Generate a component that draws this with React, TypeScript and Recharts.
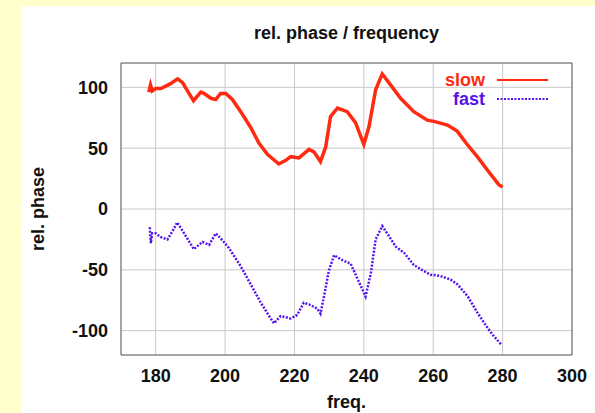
import React from 'react';
import { LineChart, Line, XAxis, YAxis, CartesianGrid, Legend, ReferenceArea } from 'recharts';

const slowFreq = [178, 178.5, 179, 180, 181.5, 184.3, 186.3, 187.7, 189.6, 190.9, 193, 193.9, 195.9, 197.3, 198.7, 200.2, 202.1, 204.5, 207.4, 209.8, 212.2, 215.5, 217.5, 218.9, 221.3, 224.2, 225.6, 227.5, 229, 230.4, 232.4, 235.2, 237.6, 240, 241.5, 243.4, 245.3, 247.7, 250.6, 254.4, 258.3, 260.2, 264.1, 266.9, 269.8, 272.7, 275.6, 278.9, 280];
const slowPhase = [96, 102, 97, 99, 99, 103, 107, 104, 95, 89, 96, 95, 91, 90, 95, 95, 90, 80, 67, 54, 45, 37, 40, 43, 42, 49, 47, 39, 51, 76, 83, 80, 71, 53, 68, 98, 111, 102, 91, 80, 73, 72, 69, 64, 53, 43, 32, 20, 18];

const fastFreq = [178.3, 178.6, 179, 180, 181.4, 183.4, 184.8, 186.2, 188.2, 191, 193.5, 195.4, 197.3, 198.7, 201.1, 204.5, 207.4, 210.3, 212.7, 214.1, 216, 218.9, 220.8, 222.7, 224.7, 226.6, 227.5, 228.5, 229.9, 231.4, 233.8, 236.2, 238.6, 240.5, 242, 243.4, 245.3, 247.2, 249.2, 251.6, 254.4, 257.3, 259.2, 262, 265, 267, 270, 272.7, 275, 277, 279.5];
const fastPhase = [-15, -28, -20, -20, -23, -25, -18.5, -11, -20, -33, -27, -29.5, -20, -24, -32, -47, -62, -77, -88, -94, -88, -90, -87, -77, -79, -82, -86, -72, -51, -38, -42, -45, -60, -72, -53, -25, -14, -22, -31, -36, -46, -51, -54, -55, -58, -62, -72, -85, -95, -103, -111];

const seriesOrder = ['slow', 'fast'];
const xTicks = [180, 200, 220, 240, 260, 280, 300];
const yTicks = [-100, -50, 0, 50, 100];
const xDomain = [170, 300];
const yDomain = [-120, 120];

const RED = '#ff2a10';
const BLUE = '#5514ee';
const FONT = '"Liberation Sans", Arial, sans-serif';

const slowData = slowFreq.map((f, i) => ({ freq: f, phase: slowPhase[i] }));
const fastData = fastFreq.map((f, i) => ({ freq: f, phase: fastPhase[i] }));

const tickStyle = { fontSize: 18, fontWeight: 'bold', fill: '#111', fontFamily: FONT };

const renderLegend = (props: any) => {
  const payload = props.payload || [];
  const ordered = seriesOrder.map((n) => payload.find((p: any) => p.value === n)).filter(Boolean);
  return (
    <svg width={140} height={44}>
      {ordered.map((p: any, i: number) => (
        <g key={i}>
          <text x={65} y={12 + i * 19} textAnchor="end" dominantBaseline="central"
            style={{ fontSize: 18, fontWeight: 'bold', fontFamily: FONT }} fill={p.color}>{p.value}</text>
          <line x1={77} x2={128} y1={12 + i * 19} y2={12 + i * 19} stroke={p.color}
            strokeWidth={2} strokeDasharray={p.value === 'fast' ? '2 1.5' : undefined} />
        </g>
      ))}
    </svg>
  );
};

const YLabel = (props: any) => {
  const vb = props.viewBox || {};
  const cx = vb.x + vb.width - 83;
  const cy = vb.y + vb.height / 2;
  return (
    <text x={cx} y={cy} transform={`rotate(-90 ${cx} ${cy})`} textAnchor="middle" dominantBaseline="central"
      style={{ fontSize: 18, fontWeight: 'bold', fontFamily: FONT }} fill="#111">rel. phase</text>
  );
};

const XLabel = (props: any) => {
  const vb = props.viewBox || {};
  const cx = vb.x + vb.width / 2;
  return (
    <text x={cx} y={vb.y + 53} textAnchor="middle"
      style={{ fontSize: 18, fontWeight: 'bold', fontFamily: FONT }} fill="#111">freq.</text>
  );
};

export default function App() {
  return (
    <div style={{ position: 'absolute', left: 0, top: 0, width: 595, height: 413, background: '#ffffcc', overflow: 'hidden' }}>
      <div style={{ position: 'absolute', left: 21, top: 6, width: 574, height: 407, background: '#ffffff' }} />
      <div style={{ position: 'absolute', left: 121, top: 24, width: 451, textAlign: 'center', fontFamily: FONT, fontWeight: 'bold', fontSize: 18, lineHeight: '18px', color: '#111' }}>
        rel. phase / frequency
      </div>
      <div style={{ position: 'absolute', left: 0, top: 0 }}>
        <LineChart width={595} height={413} margin={{ top: 63, right: 23, bottom: 28, left: 61 }}>
          <CartesianGrid stroke="#c8c8c8" strokeWidth={1} />
          <XAxis dataKey="freq" type="number" domain={xDomain} ticks={xTicks} allowDataOverflow
            height={30} axisLine={false} tickLine={false} tickSize={6} tickMargin={8} tick={tickStyle}
            label={<XLabel />} />
          <YAxis type="number" domain={yDomain} ticks={yTicks} allowDataOverflow width={60}
            axisLine={false} tickLine={false} tickSize={6} tickMargin={7} tick={tickStyle}
            label={<YLabel />} />
          <ReferenceArea x1={170} x2={300} y1={-120} y2={120} fill="none" stroke="#666" strokeWidth={1} ifOverflow="visible" />
          <Line data={slowData} dataKey="phase" name="slow" type="linear" stroke={RED} strokeWidth={3.5}
            dot={false} isAnimationActive={false} />
          <Line data={fastData} dataKey="phase" name="fast" type="linear" stroke={BLUE} strokeWidth={2.5}
            strokeDasharray="2 1.5" dot={false} isAnimationActive={false} />
          <Legend content={renderLegend} layout="horizontal" verticalAlign="middle" align="center"
            wrapperStyle={{ position: 'absolute', left: 420, top: 68, width: 140, height: 44 }} />
        </LineChart>
      </div>
    </div>
  );
}
